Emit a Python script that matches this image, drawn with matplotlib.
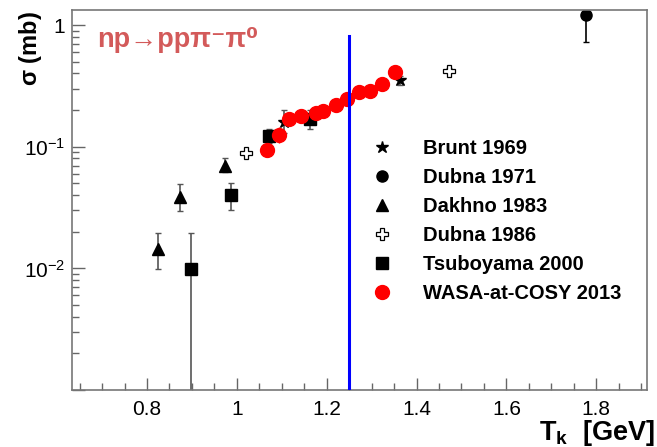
import matplotlib
matplotlib.use("Agg")
import matplotlib.pyplot as plt
import numpy as np
from matplotlib.lines import Line2D
from matplotlib.ticker import FixedLocator, LogLocator, NullFormatter, MultipleLocator

plt.rcParams["font.family"] = ["Liberation Sans", "DejaVu Sans"]
plt.rcParams["mathtext.fontset"] = "custom"
plt.rcParams["mathtext.rm"] = "Liberation Sans"
plt.rcParams["mathtext.bf"] = "Liberation Sans:bold"
plt.rcParams["mathtext.it"] = "Liberation Sans:italic"

# Brunt 1969
brunt_x = [1.106, 1.363]
brunt_y = [0.160, 0.353]
brunt_lo = [0.030, 0.030]
brunt_hi = [0.040, 0.030]

# Dubna 1971
dub71_x = [1.778]
dub71_y = [1.21]
dub71_lo = [0.49]
dub71_hi = [0.49]

# Dakhno 1983
dakhno_x = [0.825, 0.874, 0.973]
dakhno_y = [0.0144, 0.0388, 0.0698]
dakhno_lo = [0.0046, 0.0093, 0.0074]
dakhno_hi = [0.0053, 0.0106, 0.0102]

# Dubna 1986
dub86_x = [1.020, 1.473]
dub86_y = [0.089, 0.420]
dub86_lo = [0.004, 0.02]
dub86_hi = [0.004, 0.02]

# Tsuboyama 2000
tsub_x = [0.898, 0.986, 1.072, 1.162]
tsub_y = [0.0099, 0.040, 0.122, 0.168]
tsub_lo = [0.0099, 0.010, 0.015, 0.029]
tsub_hi = [0.0098, 0.010, 0.019, 0.032]

# WASA-at-COSY 2013
wasa_x = [1.068, 1.093, 1.117, 1.143, 1.177, 1.191, 1.220, 1.246, 1.271, 1.297, 1.323, 1.351]
wasa_y = [0.094, 0.126, 0.169, 0.180, 0.188, 0.198, 0.220, 0.245, 0.283, 0.287, 0.326, 0.414]
wasa_err = [0.008, 0.018, 0.02, 0.015, 0.012, 0.01, 0.01, 0.01, 0.01, 0.01, 0.01, 0.01]

threshold_x = 1.25

fig = plt.figure(figsize=(6.57, 4.47), dpi=100)
ax = fig.add_axes([72 / 657, 57 / 447, 575 / 657, 380 / 447])

ecol = "#555555"
ekw = dict(ls="none", ecolor=ecol, elinewidth=1.2, capsize=2, capthick=1.0)

ax.errorbar(dakhno_x, dakhno_y, yerr=[dakhno_lo, dakhno_hi], marker="^", ms=8,
            mfc="black", mec="black", **ekw)
ax.errorbar(tsub_x, tsub_y, yerr=[tsub_lo, tsub_hi], marker="s", ms=8,
            mfc="black", mec="black", **ekw)
ax.errorbar(dub86_x, dub86_y, yerr=[dub86_lo, dub86_hi], marker="P", ms=9,
            mfc="white", mec="black", mew=0.9, **ekw)
ax.errorbar(brunt_x, brunt_y, yerr=[brunt_lo, brunt_hi], marker="*", ms=9,
            mfc="black", mec="black", **ekw)
ax.errorbar(dub71_x, dub71_y, yerr=[dub71_lo, dub71_hi], marker="o", ms=8,
            mfc="black", mec="black", ls="none", ecolor="black", elinewidth=1.2,
            capsize=2)
ax.errorbar(wasa_x, wasa_y, yerr=wasa_err, marker="o", ms=10, mfc="#ff0000",
            mec="#ff0000", ls="none", ecolor="#ff0000", elinewidth=1, zorder=5)

ax.plot([threshold_x, threshold_x], [1e-3, 0.82], color="#0000ff", lw=2.2, zorder=6)

ax.set_xlim(0.633, 1.913)
ax.set_ylim(1e-3, 1.33)
ax.set_yscale("log")

ax.xaxis.set_minor_locator(MultipleLocator(0.05))
xt = [0.8, 1.0, 1.2, 1.4, 1.6, 1.8]
ax.set_xticks(xt)
ax.set_xticklabels(["0.8", "1", "1.2", "1.4", "1.6", "1.8"])

ax.yaxis.set_major_locator(FixedLocator([1e-3, 1e-2, 1e-1, 1]))
ax.yaxis.set_minor_locator(LogLocator(base=10, subs=np.arange(2, 10)))
ax.yaxis.set_minor_formatter(NullFormatter())
ax.set_yticklabels(["", r"$10^{-2}$", r"$10^{-1}$", "1"])

ax.tick_params(which="major", direction="in", length=9, width=1, color="#666666",
               labelsize=15, pad=5)
ax.tick_params(which="minor", direction="in", length=5, width=1, color="#666666")
ax.tick_params(axis="x", which="major", pad=7)
for sp in ax.spines.values():
    sp.set_color("#777777")
    sp.set_linewidth(1.2)

fig.text(97 / 657, 1 - 40 / 447, "np\u2192pp\u03c0\u207b\u03c0\u2070",
         color="#d35a5a", fontsize=19.5, fontweight="bold", va="center", ha="left")
fig.text(30 / 657, 1 - 49 / 447, r"$\mathbf{\sigma}$ (mb)", rotation=90,
         fontsize=17, fontweight="bold", va="center", ha="center")
fig.text(655 / 657, 1 - 433 / 447, r"T$_\mathbf{k}$  [GeV]", fontsize=19.5,
         fontweight="bold", va="center", ha="right")

legend_labels = ["Brunt 1969", "Dubna 1971", "Dakhno 1983", "Dubna 1986",
                 "Tsuboyama 2000", "WASA-at-COSY 2013"]
legend_handles = [
    Line2D([], [], ls="none", marker="*", ms=9, mfc="black", mec="black"),
    Line2D([], [], ls="none", marker="o", ms=8, mfc="black", mec="black"),
    Line2D([], [], ls="none", marker="^", ms=8, mfc="black", mec="black"),
    Line2D([], [], ls="none", marker="P", ms=9, mfc="white", mec="black", mew=0.9),
    Line2D([], [], ls="none", marker="s", ms=8, mfc="black", mec="black"),
    Line2D([], [], ls="none", marker="o", ms=10, mfc="#ff0000", mec="#ff0000"),
]
ax.legend(legend_handles, legend_labels, loc="upper left",
          bbox_to_anchor=(0.501, 0.688), frameon=False,
          prop=dict(weight="bold", size=14.5), handlelength=1.2,
          handletextpad=1.4, labelspacing=0.5, borderpad=0)

fig.savefig("out.png", dpi=100)
